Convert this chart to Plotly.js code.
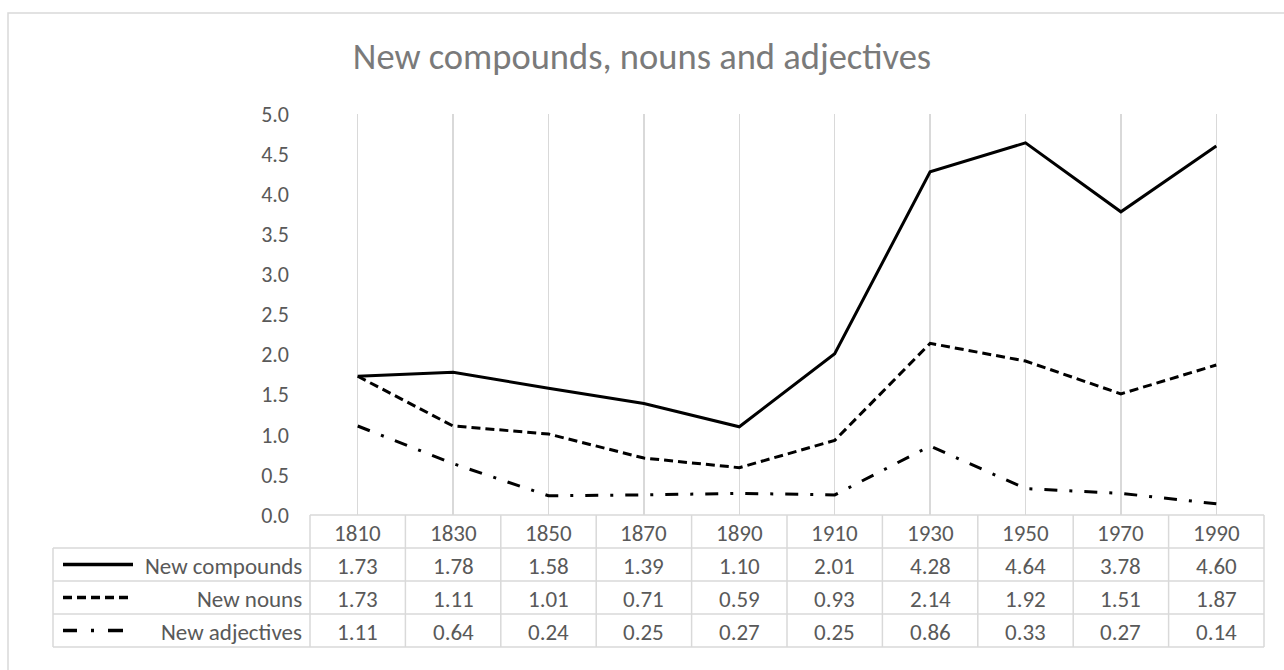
<!DOCTYPE html>
<html>
<head>
<meta charset="utf-8">
<script src="https://cdn.plot.ly/plotly-3.0.1.min.js"></script>
<style>html,body{margin:0;padding:0;background:#fff;}#chart{width:1284px;height:670px;}</style>
</head>
<body>
<div id="chart"></div>
<script>
const years = ["1810","1830","1850","1870","1890","1910","1930","1950","1970","1990"];
const seriesNames = ["New compounds","New nouns","New adjectives"];
const compounds = [1.73,1.78,1.58,1.39,1.10,2.01,4.28,4.64,3.78,4.60];
const nouns = [1.73,1.11,1.01,0.71,0.59,0.93,2.14,1.92,1.51,1.87];
const adjectives = [1.11,0.64,0.24,0.25,0.27,0.25,0.86,0.33,0.27,0.14];
const yTicks = [0,0.5,1,1.5,2,2.5,3,3.5,4,4.5,5];

const W = 1284, H = 670;
const M = {l:310, r:20, t:114, b:155};
const PW = W - M.l - M.r, PH = H - M.t - M.b;
const px = x => (x - M.l) / PW;
const py = y => (H - M.b - y) / PH;

const FONT = "Carlito, Lato, 'Liberation Sans', sans-serif";
const TXT = "#595959";
const GRID = "#d9d9d9";
const dashes = ["solid", "9px,5px", "13px,12px,3px,12px"];
const keyDashes = ["solid", "9px,5px", "14px,14px,3px,14px,16px"];
const keyEnds = [133, 133, 123];
const allSeries = [compounds, nouns, adjectives];

const traces = allSeries.map((vals, i) => ({
  x: years, y: vals, type: "scatter", mode: "lines", name: seriesNames[i],
  line: {color: "#000000", width: 3, dash: dashes[i]},
  hoverinfo: "skip"
}));

const shapes = [];
const annotations = [];
// outer chart border
shapes.push({type:"rect", xref:"paper", yref:"paper", x0:px(8), x1:px(1300), y0:py(13), y1:py(700),
  line:{color:GRID, width:1.5}, fillcolor:"rgba(0,0,0,0)", layer:"below"});

// table geometry
const tblTop = 515, rowH = 33, colW = PW / years.length, tblLeft = 53, tblRight = M.l + PW;
const rowY = k => tblTop + k * rowH;
shapes.push({type:"line", xref:"paper", yref:"paper", x0:px(M.l), x1:px(tblRight), y0:py(rowY(0)), y1:py(rowY(0)), line:{color:GRID, width:1.5}});
for (let k = 1; k <= 4; k++) {
  shapes.push({type:"line", xref:"paper", yref:"paper", x0:px(tblLeft), x1:px(tblRight), y0:py(rowY(k)), y1:py(rowY(k)), line:{color:GRID, width:1.5}});
}
for (let c = 0; c <= years.length; c++) {
  const xx = M.l + c * colW;
  shapes.push({type:"line", xref:"paper", yref:"paper", x0:px(xx), x1:px(xx), y0:py(rowY(0)), y1:py(rowY(4)), line:{color:GRID, width:1.5}});
}
shapes.push({type:"line", xref:"paper", yref:"paper", x0:px(tblLeft), x1:px(tblLeft), y0:py(rowY(1)), y1:py(rowY(4)), line:{color:GRID, width:1.5}});

const cellFont = {family:FONT, size:23, color:TXT};
years.forEach((y, j) => annotations.push({xref:"x", yref:"paper", x:j, y:py(rowY(0) + rowH/2 + 1), text:y, showarrow:false,
  xanchor:"center", yanchor:"middle", font:cellFont}));
allSeries.forEach((vals, i) => {
  const cy = rowY(i + 1) + rowH / 2 + 1;
  vals.forEach((v, j) => annotations.push({xref:"x", yref:"paper", x:j, y:py(cy), text:v.toFixed(2), showarrow:false,
    xanchor:"center", yanchor:"middle", font:cellFont}));
  annotations.push({xref:"paper", yref:"paper", x:px(304), y:py(cy), text:seriesNames[i], showarrow:false,
    xanchor:"right", yanchor:"middle", font:cellFont});
  shapes.push({type:"line", xref:"paper", yref:"paper", x0:px(63), x1:px(keyEnds[i]), y0:py(cy - 1), y1:py(cy - 1),
    line:{color:"#000000", width:3.5, dash: keyDashes[i]}});
});

const layout = {
  width: W, height: H,
  margin: M,
  paper_bgcolor: "#ffffff", plot_bgcolor: "#ffffff",
  showlegend: false,
  title: {text: "New compounds, nouns and adjectives", x: 0.5, xref: "container", xanchor: "center",
    yref: "container", y: 1 - 56 / H, yanchor: "middle", font: {family: FONT, size: 36.5, color: "#7a7a7a"}},
  xaxis: {type: "category", range: [-0.5, years.length - 0.5], showticklabels: false, ticks: "",
    showgrid: true, gridcolor: GRID, gridwidth: 1.5, zeroline: false, showline: false, fixedrange: true},
  yaxis: {range: [0, 5], tickvals: yTicks, ticktext: yTicks.map(v => v.toFixed(1)), showgrid: false, zeroline: false,
    showline: false, ticks: "", ticklabelstandoff: 20, tickfont: {family: FONT, size: 22, color: TXT}, fixedrange: true},
  shapes: shapes,
  annotations: annotations
};

Plotly.newPlot("chart", traces, layout, {displayModeBar: false, staticPlot: true});
</script>
</body>
</html>
